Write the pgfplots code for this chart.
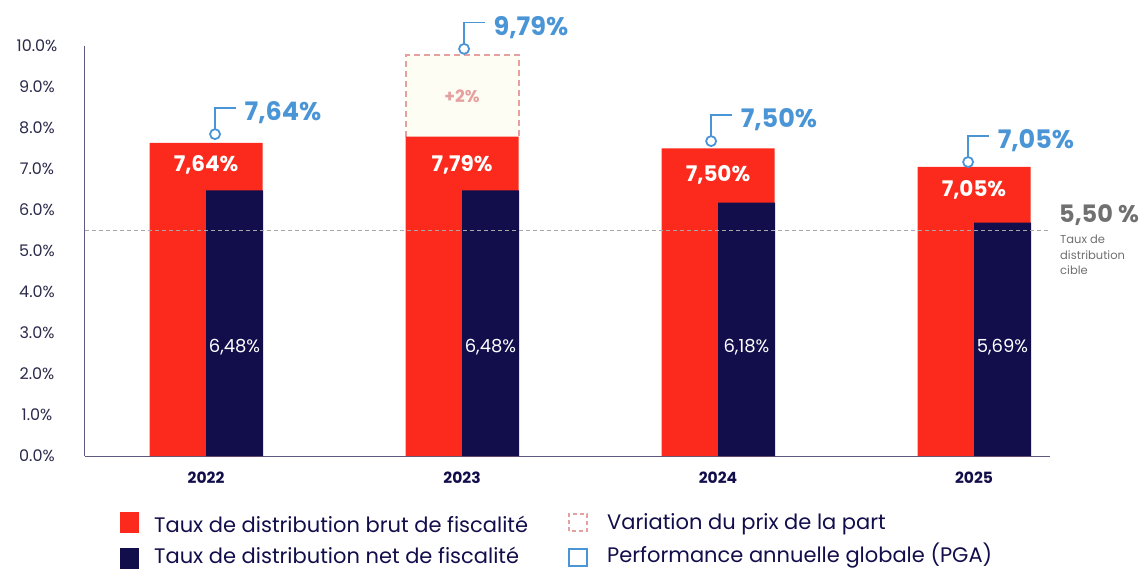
\documentclass[border=0pt]{standalone}
\usepackage{pgfplots}
\pgfplotsset{compat=1.18}
\usepackage{fontspec}
\setmainfont{Poppins}
\definecolor{redc}{HTML}{FC2A1C}
\definecolor{navyc}{HTML}{120E4B}
\definecolor{bluec}{HTML}{4A95D6}
\definecolor{pinkc}{HTML}{E6A0A0}
\definecolor{creamc}{HTML}{FDFDF3}
\definecolor{grayd}{HTML}{A8A8A8}
\definecolor{grayt}{HTML}{707070}
\definecolor{axiscol}{HTML}{5C5A80}
\definecolor{tickcol}{HTML}{2B2A4A}
\begin{document}
\begin{tikzpicture}[x=1pt,y=1pt]
\useasboundingbox (0,0) rectangle (1147,571);
\begin{axis}[
  at={(85pt,115pt)}, anchor=south west,
  scale only axis, width=965pt, height=410pt,
  xmin=-0.473, xmax=3.297, ymin=0, ymax=10,
  axis x line=bottom, axis y line=left,
  axis line style={-, draw=axiscol, line width=1pt},
  xtick={0,1,2,3}, xticklabels={2022,2023,2024,2025},
  ytick={0,1,2,3,4,5,6,7,8,9,10},
  yticklabels={0.0\%,1.0\%,2.0\%,3.0\%,4.0\%,5.0\%,6.0\%,7.0\%,8.0\%,9.0\%,10.0\%},
  major tick length=0pt,
  xticklabel style={font=\fontsize{15.5}{18}\selectfont\bfseries, text=navyc, anchor=center, yshift=-22pt},
  yticklabel style={font=\fontsize{16}{19}\selectfont, text=tickcol, anchor=center, xshift=-48pt},
  clip=false,
]
% variation du prix de la part (2023)
\addplot[fill=creamc, draw=pinkc, line width=2pt, dash pattern=on 6pt off 4pt]
  coordinates {(0.7793,7.79)(0.7793,9.79)(1.2207,9.79)(1.2207,7.79)};
% brut
\addplot[ybar, bar width=113pt, bar shift=0pt, fill=redc, draw=none]
  coordinates {(0,7.64)(1,7.79)(2,7.50)(3,7.05)};
% net
\addplot[ybar, bar width=57pt, bar shift=28.5pt, fill=navyc, draw=none]
  coordinates {(0,6.48)(1,6.48)(2,6.18)(3,5.69)};
% cible
\addplot[draw=grayd, line width=1pt, dash pattern=on 4pt off 3pt]
  coordinates {(-0.473,5.5)(3.297,5.5)};
% leaders
\addplot[draw=bluec, line width=1.5pt] coordinates {(0.035,7.85)(0.035,8.49)(0.117,8.49)};
\addplot[draw=bluec, line width=1.5pt] coordinates {(1.008,9.93)(1.008,10.57)(1.090,10.57)};
\addplot[draw=bluec, line width=1.5pt] coordinates {(1.973,7.68)(1.973,8.32)(2.055,8.32)};
\addplot[draw=bluec, line width=1.5pt] coordinates {(2.977,7.17)(2.977,7.81)(3.059,7.81)};
% PGA markers
\addplot[only marks, mark=*, mark size=5pt, mark options={fill=white, draw=bluec, line width=1.8pt}]
  coordinates {(0.035,7.85)(1.008,9.93)(1.973,7.68)(2.977,7.17)};
% PGA labels
\begin{scope}[every node/.style={anchor=west, inner sep=0pt, text=bluec, font=\fontsize{25.5}{30}\selectfont\bfseries}]
\node at (axis cs:0.150,8.37) {7,64\%};
\node at (axis cs:1.123,10.45) {9,79\%};
\node at (axis cs:2.088,8.20) {7,50\%};
\node at (axis cs:3.092,7.69) {7,05\%};
\end{scope}
% brut labels
\begin{scope}[every node/.style={anchor=center, inner sep=0pt, text=white, font=\fontsize{21.5}{25}\selectfont\bfseries}]
\node at (axis cs:0,7.10) {7,64\%};
\node at (axis cs:1,7.10) {7,79\%};
\node at (axis cs:2,6.85) {7,50\%};
\node at (axis cs:3,6.49) {7,05\%};
\end{scope}
% net labels
\begin{scope}[every node/.style={anchor=center, inner sep=0pt, text=white, font=\fontsize{18}{21}\selectfont}]
\node at (axis cs:0.111,2.66) {6,48\%};
\node at (axis cs:1.111,2.66) {6,48\%};
\node at (axis cs:2.111,2.66) {6,18\%};
\node at (axis cs:3.111,2.66) {5,69\%};
\end{scope}
\node[anchor=center, inner sep=0pt, text=pinkc, font=\fontsize{17}{20}\selectfont\bfseries] at (axis cs:1,8.78) {+2\%};
\end{axis}
% target annotation
\node[anchor=west, inner sep=0pt, text=grayt, font=\fontsize{24}{28}\selectfont\bfseries] at (1059,356) {5,50 \%};
\node[anchor=north west, inner sep=0pt, text=grayt, align=left, font=\fontsize{11.5}{15.5}\selectfont] at (1060,336) {Taux de\\distribution\\cible};
% legend
\fill[redc] (120,38) rectangle (139,59);
\fill[navyc] (120,2) rectangle (139,23);
\draw[pinkc, line width=2pt, dash pattern=on 4pt off 3pt] (569,40) rectangle (587,57);
\draw[bluec, line width=2pt] (569,5) rectangle (587,22);
\begin{scope}[every node/.style={anchor=west, inner sep=0pt, text=navyc, font=\fontsize{21}{24}\selectfont}]
\node at (154,47) {Taux de distribution brut de fiscalité};
\node at (154,16) {Taux de distribution net de fiscalité};
\node at (607,47) {Variation du prix de la part};
\node at (607,15) {Performance annuelle globale (PGA)};
\end{scope}
\end{tikzpicture}
\end{document}
